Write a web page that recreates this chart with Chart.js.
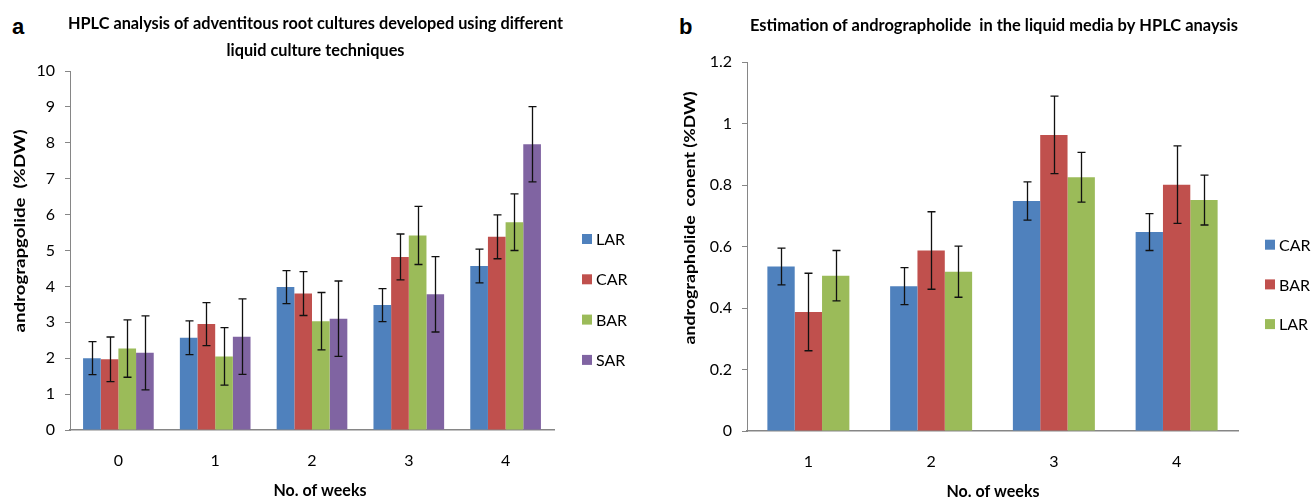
<!DOCTYPE html>
<html>
<head>
<meta charset="utf-8">
<script src="https://cdn.jsdelivr.net/npm/chart.js@4/dist/chart.umd.min.js"></script>
<style>
  body { margin:0; background:#fff; width:1311px; height:499px; position:relative; overflow:hidden; }
  canvas { position:absolute; top:0; }
  #chartA { left:0; }
  #chartB { left:655px; }
  .letter { position:absolute; top:14px; font:bold 22px "Liberation Sans", Arial, sans-serif; color:#000; }
</style>
</head>
<body>
<div class="letter" style="left:12px">a</div>
<div class="letter" style="left:679px">b</div>
<canvas id="chartA" width="655" height="499"></canvas>
<canvas id="chartB" width="656" height="499"></canvas>
<script>
// Panel a: root cultures, weeks 0-4
const weeksA   = ['0', '1', '2', '3', '4'];
const larA     = [2.00, 2.57, 3.98, 3.48, 4.57];
const carA     = [1.97, 2.95, 3.80, 4.82, 5.38];
const barA     = [2.27, 2.05, 3.03, 5.42, 5.79];
const sarA     = [2.15, 2.60, 3.10, 3.78, 7.96];
const larErrA  = [0.46, 0.47, 0.46, 0.46, 0.47];
const carErrA  = [0.62, 0.60, 0.61, 0.64, 0.61];
const barErrA  = [0.80, 0.80, 0.80, 0.81, 0.79];
const sarErrA  = [1.03, 1.05, 1.05, 1.05, 1.05];

// Panel b: liquid media, weeks 1-4
const weeksB   = ['1', '2', '3', '4'];
const carB     = [0.535, 0.471, 0.748, 0.647];
const barB     = [0.387, 0.587, 0.963, 0.801];
const larB     = [0.505, 0.518, 0.825, 0.751];
const carErrB  = [0.060, 0.060, 0.062, 0.060];
const barErrB  = [0.126, 0.126, 0.126, 0.126];
const larErrB  = [0.082, 0.083, 0.081, 0.081];

const BLUE = '#4F81BD', RED = '#C0504D', GREEN = '#9BBB59', PURPLE = '#8064A2';
const AXIS = '#868686';
const FONT = 'Lato, "Liberation Sans", sans-serif';

// Error bars (mean +/- err) over every bar
const errorBars = {
    id: 'errorBars',
    afterDatasetsDraw(chart) {
        const ctx = chart.ctx, y = chart.scales.y;
        ctx.save();
        ctx.strokeStyle = '#111';
        ctx.lineWidth = 1.3;
        chart.data.datasets.forEach((ds, i) => {
            chart.getDatasetMeta(i).data.forEach((bar, j) => {
                const v = ds.data[j], e = ds.errors[j];
                const top = y.getPixelForValue(v + e), bot = y.getPixelForValue(v - e);
                const x = Math.round(bar.x) + 0.5;
                ctx.beginPath();
                ctx.moveTo(x, top);     ctx.lineTo(x, bot);
                ctx.moveTo(x - 4, top); ctx.lineTo(x + 4, top);
                ctx.moveTo(x - 4, bot); ctx.lineTo(x + 4, bot);
                ctx.stroke();
            });
        });
        ctx.restore();
    }
};

// Legend stacked to the right of the plot
const sideLegend = {
    id: 'sideLegend',
    afterDraw(chart, args, opts) {
        const ctx = chart.ctx, area = chart.chartArea;
        ctx.save();
        ctx.font = '16px ' + FONT;
        ctx.textBaseline = 'middle';
        chart.data.datasets.forEach((ds, i) => {
            const cy = opts.top + i * opts.gap;
            const x = area.right + opts.offset;
            ctx.fillStyle = ds.backgroundColor;
            ctx.fillRect(x, cy - 5, 10, 10);
            ctx.fillStyle = '#000';
            ctx.fillText(ds.label, x + 14, cy + 1);
        });
        ctx.restore();
    }
};

// Condensed bold text: squeezed horizontally by factor f
function squeezed(ctx, text, x, y, f, angle) {
    ctx.save();
    ctx.translate(x, y);
    if (angle) ctx.rotate(angle);
    ctx.scale(f, 1);
    ctx.fillText(text, 0, 0);
    ctx.restore();
}

// Chart title, y title and x title
const captions = {
    id: 'captions',
    afterDraw(chart, args, o) {
        const ctx = chart.ctx;
        ctx.save();
        ctx.fillStyle = '#000';
        ctx.textAlign = 'center';
        ctx.textBaseline = 'alphabetic';

        ctx.font = `bold ${o.title.size}px ${FONT}`;
        const f = o.title.width / ctx.measureText(o.title.lines[0]).width;
        o.title.lines.forEach((line, i) => squeezed(ctx, line, o.title.x, o.title.y[i], f));

        ctx.font = `bold ${o.xTitle.size}px ${FONT}`;
        squeezed(ctx, o.xTitle.text, o.xTitle.x, o.xTitle.y,
                 o.xTitle.width / ctx.measureText(o.xTitle.text).width);

        ctx.font = `bold ${o.yTitle.size}px ${FONT}`;
        ctx.textBaseline = 'middle';
        squeezed(ctx, o.yTitle.text, o.yTitle.x, o.yTitle.y,
                 o.yTitle.width / ctx.measureText(o.yTitle.text).width, -Math.PI / 2);
        ctx.restore();
    }
};

function makeChart(id, cfg) {
    return new Chart(document.getElementById(id), {
        type: 'bar',
        data: { labels: cfg.labels, datasets: cfg.datasets },
        options: {
            responsive: false,
            animation: false,
            layout: { padding: { left: 0, right: cfg.padRight, top: cfg.padTop, bottom: 0 } },
            datasets: { bar: { categoryPercentage: cfg.catPct, barPercentage: 1, borderWidth: 0 } },
            plugins: {
                legend: { display: false },
                tooltip: { enabled: false },
                sideLegend: cfg.legend,
                captions: cfg.captions
            },
            scales: {
                x: {
                    grid: { display: false },
                    border: { display: true, color: AXIS, width: 1.5 },
                    ticks: { color: '#000', font: { family: FONT, size: 16 }, padding: 13 },
                    afterFit: s => { s.height = cfg.xHeight; }
                },
                y: {
                    min: 0, max: cfg.yMax,
                    ticks: { stepSize: cfg.yStep, color: '#000', font: { family: FONT, size: 16 }, padding: 10,
                             callback: v => String(+v.toFixed(1)) },
                    grid: { drawOnChartArea: false, drawTicks: true, tickLength: 5, color: AXIS },
                    border: { display: true, color: AXIS, width: 1 },
                    afterFit: s => { s.width = cfg.yWidth; }
                }
            }
        },
        plugins: [errorBars, sideLegend, captions]
    });
}

makeChart('chartA', {
    labels: weeksA,
    datasets: [
        { label: 'LAR', data: larA, errors: larErrA, backgroundColor: BLUE },
        { label: 'CAR', data: carA, errors: carErrA, backgroundColor: RED },
        { label: 'BAR', data: barA, errors: barErrA, backgroundColor: GREEN },
        { label: 'SAR', data: sarA, errors: sarErrA, backgroundColor: PURPLE }
    ],
    catPct: 0.73, padRight: 101, padTop: 71, xHeight: 69, yWidth: 70,
    yMax: 10, yStep: 1,
    legend: { top: 239, gap: 40.3, offset: 28 },
    captions: {
        title: { lines: ['HPLC analysis of adventitous root cultures developed using different',
                         'liquid culture techniques'], x: 315.5, y: [29, 56], width: 495, size: 17 },
        xTitle: { text: 'No. of weeks', x: 320, y: 496, width: 93, size: 17 },
        yTitle: { text: 'andrograpgolide  (%DW)', x: 20, y: 231, width: 203, size: 16 }
    }
});

makeChart('chartB', {
    labels: weeksB,
    datasets: [
        { label: 'CAR', data: carB, errors: carErrB, backgroundColor: BLUE },
        { label: 'BAR', data: barB, errors: barErrB, backgroundColor: RED },
        { label: 'LAR', data: larB, errors: larErrB, backgroundColor: GREEN }
    ],
    catPct: 0.668, padRight: 73, padTop: 62, xHeight: 68, yWidth: 92,
    yMax: 1.2, yStep: 0.2,
    legend: { top: 244.7, gap: 39.7, offset: 27 },
    captions: {
        title: { lines: ['Estimation of andrographolide  in the liquid media by HPLC anaysis'],
                 x: 339, y: [31], width: 488, size: 17 },
        xTitle: { text: 'No. of weeks', x: 338, y: 497, width: 93, size: 17 },
        yTitle: { text: 'andrographolide  conent (%DW)', x: 35, y: 218, width: 253, size: 15 }
    }
});
</script>
</body>
</html>
